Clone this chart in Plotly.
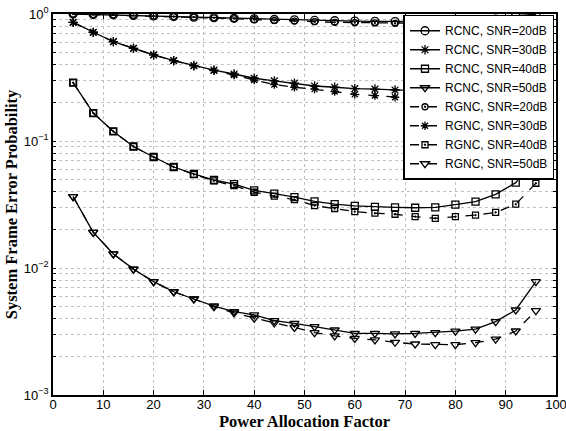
import plotly.graph_objects as go

x = [4, 8, 12, 16, 20, 24, 28, 32, 36, 40, 44, 48, 52, 56, 60, 64, 68, 72, 76, 80, 84, 88, 92, 96]

rcnc20 = [1.0, 0.99, 0.985, 0.975, 0.965, 0.955, 0.945, 0.935, 0.925, 0.915, 0.905, 0.9, 0.89, 0.885, 0.88, 0.875, 0.872, 0.87, 0.872, 0.878, 0.888, 0.91, 0.97, 0.995]
rgnc20 = [1.0, 0.99, 0.985, 0.975, 0.965, 0.955, 0.945, 0.933, 0.92, 0.905, 0.89, 0.88, 0.87, 0.86, 0.855, 0.85, 0.845, 0.842, 0.84, 0.84, 0.842, 0.85, 0.87, 0.92]
rcnc30 = [0.86, 0.718, 0.605, 0.537, 0.476, 0.429, 0.392, 0.362, 0.337, 0.312, 0.297, 0.285, 0.271, 0.265, 0.258, 0.256, 0.252, 0.248, 0.246, 0.246, 0.25, 0.26, 0.29, 0.36]
rgnc30 = [0.86, 0.718, 0.605, 0.537, 0.476, 0.429, 0.39, 0.358, 0.33, 0.302, 0.278, 0.265, 0.256, 0.245, 0.233, 0.228, 0.221, 0.216, 0.212, 0.212, 0.215, 0.222, 0.24, 0.29]
rcnc40 = [0.288, 0.166, 0.119, 0.0905, 0.0748, 0.0624, 0.055, 0.0493, 0.0458, 0.0408, 0.0385, 0.0362, 0.0335, 0.0318, 0.0308, 0.0303, 0.030, 0.0298, 0.030, 0.0316, 0.0333, 0.038, 0.047, 0.075]
rgnc40 = [0.288, 0.166, 0.119, 0.0905, 0.0748, 0.0624, 0.0545, 0.0485, 0.0445, 0.0395, 0.0368, 0.0345, 0.031, 0.0294, 0.0278, 0.027, 0.0265, 0.0254, 0.0246, 0.0254, 0.0261, 0.0274, 0.0318, 0.0465]
rcnc50 = [0.0365, 0.0191, 0.0129, 0.0098, 0.0078, 0.0065, 0.0057, 0.00502, 0.00453, 0.00427, 0.00385, 0.00367, 0.00345, 0.00325, 0.00306, 0.00306, 0.00303, 0.00306, 0.0031, 0.00318, 0.0033, 0.00378, 0.00467, 0.0078]
rgnc50 = [0.0365, 0.0191, 0.0129, 0.0098, 0.0078, 0.0065, 0.0057, 0.00495, 0.00443, 0.00402, 0.0037, 0.0034, 0.0031, 0.00292, 0.00279, 0.00272, 0.0026, 0.00252, 0.00249, 0.00249, 0.00258, 0.00275, 0.00319, 0.00461]

series = [
    ("RCNC, SNR=20dB", rcnc20, "circle-open", "solid", 8),
    ("RCNC, SNR=30dB", rcnc30, "asterisk-open", "solid", 8),
    ("RCNC, SNR=40dB", rcnc40, "square-open", "solid", 7),
    ("RCNC, SNR=50dB", rcnc50, "triangle-down-open", "solid", 8),
    ("RGNC, SNR=20dB", rgnc20, "circle-open-dot", "dash", 6),
    ("RGNC, SNR=30dB", rgnc30, "asterisk-open", "dash", 7),
    ("RGNC, SNR=40dB", rgnc40, "square-open-dot", "dash", 6),
    ("RGNC, SNR=50dB", rgnc50, "triangle-down-open", "dash", 8),
]

fig = go.Figure()
for name, ys, sym, dash, sz in series:
    fig.add_trace(go.Scatter(
        x=x, y=ys, name=name, mode="lines+markers",
        line=dict(color="black", width=1.3, dash=dash),
        marker=dict(symbol=sym, size=sz, color="black", line=dict(color="black", width=1.3)),
    ))

ytickvals = []
yticktext = []
for e in [-3, -2, -1]:
    for m in range(1, 10):
        ytickvals.append(m * 10 ** e)
        yticktext.append(f"10<sup>{'\u2212' + str(-e)}</sup>" if m == 1 else "")
ytickvals.append(1.0)
yticktext.append("10<sup>0</sup>")

fig.update_layout(
    width=566, height=431,
    margin=dict(l=53, r=10, t=14, b=36),
    paper_bgcolor="white", plot_bgcolor="white",
    font=dict(family="Liberation Sans, Arial", size=13, color="black"),
    showlegend=True,
    legend=dict(
        x=0.997, y=0.998, xanchor="right", yanchor="top",
        bgcolor="white", bordercolor="black", borderwidth=1.5,
        font=dict(family="Liberation Sans, Arial", size=12),
        tracegroupgap=0, itemwidth=30,
    ),
)
fig.update_xaxes(
    range=[0, 100], tick0=0, dtick=10, automargin=False,
    showgrid=True, gridcolor="#c0c0c0", griddash="dot", gridwidth=1,
    showline=True, linecolor="black", linewidth=1.5, mirror="ticks",
    ticks="inside", ticklen=5, tickcolor="black", zeroline=False,
    ticklabeloverflow="allow", ticklabelstandoff=-3,
    title=dict(text="<b>Power Allocation Factor</b>",
               font=dict(family="Liberation Serif, Times New Roman", size=16.5), standoff=0),
)
fig.update_yaxes(
    type="log", range=[-3, 0], automargin=False,
    tickvals=ytickvals, ticktext=yticktext,
    showgrid=True, gridcolor="#c0c0c0", griddash="dot", gridwidth=1,
    showline=True, linecolor="black", linewidth=1.5, mirror="ticks",
    ticks="inside", ticklen=3, tickcolor="black", zeroline=False,
    ticklabeloverflow="allow",
    title=dict(text="<b>System Frame Error Probability</b>",
               font=dict(family="Liberation Serif, Times New Roman", size=16.5), standoff=2),
)

fig.write_html("out.html", config={"displayModeBar": False},
               post_script="document.body.style.margin='0px';document.body.style.overflow='hidden';")
